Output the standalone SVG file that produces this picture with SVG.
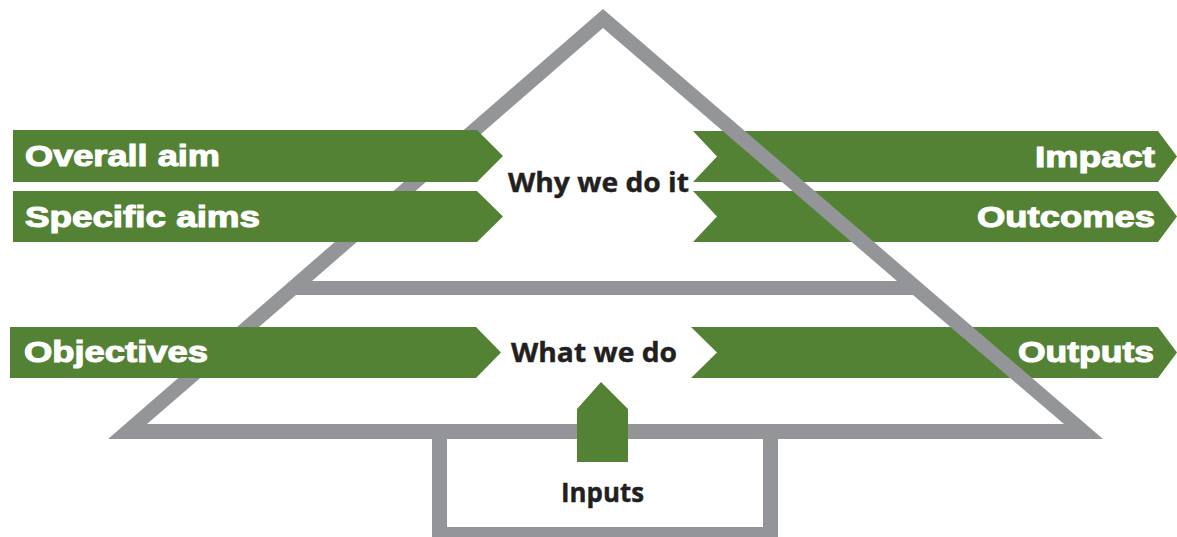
<svg xmlns="http://www.w3.org/2000/svg" width="1177" height="537" viewBox="0 0 1177 537">
<style>
.arrow{fill:#538234}
.frame{fill:#939598;fill-rule:evenodd}
.lbl{font-family:"Liberation Sans",Arial,sans-serif;font-weight:bold;font-size:30px;fill:#ffffff;stroke:#ffffff;stroke-width:1.1px}
.dark{font-family:"Open Sans","DejaVu Sans",sans-serif;font-weight:bold;font-size:26px;fill:#231f20;stroke:#231f20;stroke-width:0.4px}
</style>
<rect width="1177" height="537" fill="#ffffff"/>
<g id="connectors">
<g id="impact">
<polygon class="arrow" points="693,131 1158,131 1177,156.5 1158,182 693,182 717,156.5"/>
<text class="lbl" x="1155" y="167" text-anchor="end" textLength="120" lengthAdjust="spacingAndGlyphs">Impact</text>
</g>
<g id="outcomes">
<polygon class="arrow" points="693,191 1158,191 1177,216.5 1158,242 693,242 717,216.5"/>
<text class="lbl" x="1155" y="227" text-anchor="end" textLength="178" lengthAdjust="spacingAndGlyphs">Outcomes</text>
</g>
<g id="outputs">
<polygon class="arrow" points="691,327 1158,327 1177,352.5 1158,378 691,378 717,352.5"/>
<text class="lbl" x="1154" y="362" text-anchor="end" textLength="136" lengthAdjust="spacingAndGlyphs">Outputs</text>
</g>
</g>
<g id="pyramid">
<path class="frame" d="M603,9 L1103,439 L108,439 Z M603,28 L897,281 L312,281 Z M296,295 L913,295 L1064,424 L147,424 Z"/>
<text class="dark" x="508" y="192" textLength="181" lengthAdjust="spacingAndGlyphs">Why we do it</text>
<text class="dark" x="511" y="362" textLength="166" lengthAdjust="spacingAndGlyphs">What we do</text>
</g>
<g id="inputs">
<path class="frame" d="M432,430 H778 V545 H432 Z M447,439 H763 V527 H447 Z"/>
<text class="dark" x="561" y="502" font-size="25" textLength="83" lengthAdjust="spacingAndGlyphs">Inputs</text>
</g>
<g id="left-arrows">
<g id="overall-aim">
<polygon class="arrow" points="13,130 477,130 503,156 477,182 13,182"/>
<text class="lbl" x="25" y="166" textLength="195" lengthAdjust="spacingAndGlyphs">Overall aim</text>
</g>
<g id="specific-aims">
<polygon class="arrow" points="13,191 477,191 503,216.5 477,242 13,242"/>
<text class="lbl" x="25" y="227" textLength="235" lengthAdjust="spacingAndGlyphs">Specific aims</text>
</g>
<g id="objectives">
<polygon class="arrow" points="10,327 476,327 501,352.5 476,378 10,378"/>
<text class="lbl" x="24" y="362" textLength="184" lengthAdjust="spacingAndGlyphs">Objectives</text>
</g>
</g>
<g id="inputs-arrow">
<polygon class="arrow" points="577,462 577,409 601,382 628,409 628,462"/>
</g>
</svg>
